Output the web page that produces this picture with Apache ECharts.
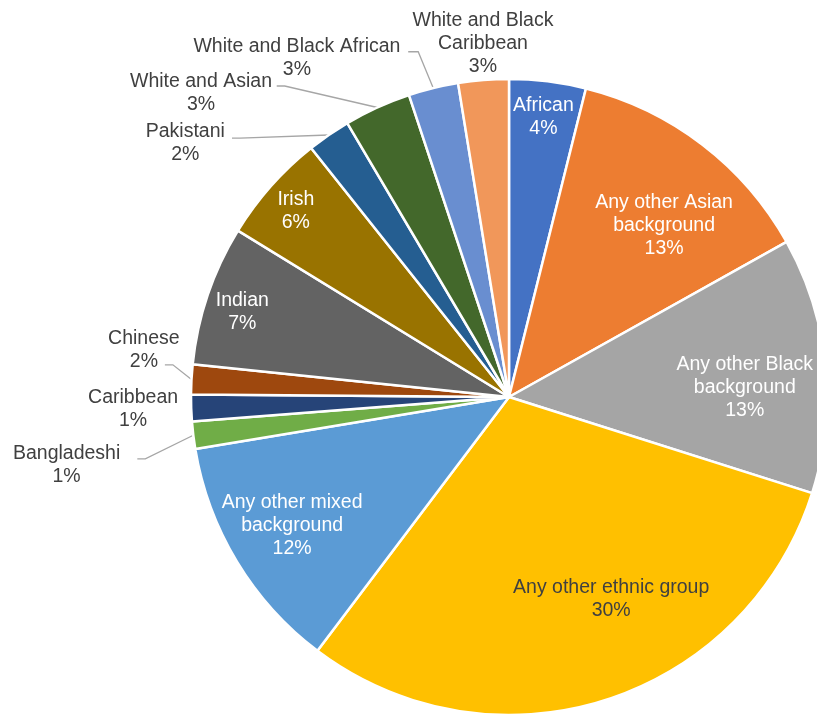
<!DOCTYPE html>
<html>
<head>
<meta charset="utf-8">
<title>Ethnic groups</title>
<script src="https://cdn.jsdelivr.net/npm/echarts@6/dist/echarts.min.js"></script>
<style>
  html, body { margin: 0; padding: 0; background: #ffffff; }
  #chart { width: 817px; height: 716px; }
</style>
</head>
<body>
<div id="chart"></div>
<script>
// Categories, clockwise from 12 o'clock
const categories = [
  'African',
  'Any other Asian background',
  'Any other Black background',
  'Any other ethnic group',
  'Any other mixed background',
  'Bangladeshi',
  'Caribbean',
  'Chinese',
  'Indian',
  'Irish',
  'Pakistani',
  'White and Asian',
  'White and Black African',
  'White and Black Caribbean'
];

// Share of each group (per cent)
const shares = [3.89, 13.0, 13.0, 30.4, 12.1, 1.38, 1.35, 1.52, 7.12, 5.55, 2.2, 3.4, 2.53, 2.56];

// Slice fills
const sliceColors = [
  '#4472C4', '#ED7D31', '#A5A5A5', '#FFC000', '#5B9BD5', '#70AD47', '#264478',
  '#9E480E', '#636363', '#997300', '#255E91', '#43682B', '#698ED0', '#F1975A'
];

// Line breaks used in the slice labels
const wrappedNames = {
  'Any other Asian background': 'Any other Asian\nbackground',
  'Any other Black background': 'Any other Black\nbackground',
  'Any other mixed background': 'Any other mixed\nbackground',
  'White and Black Caribbean': 'White and Black\nCaribbean'
};

// Pie geometry (pixels)
const PIE = { cx: 509, cy: 397, r: 318 };

// Labels drawn on the slice: k = fraction of the radius, da = angular nudge (deg)
const insideLabels = {
  'African': { k: 0.887, da: 0, color: '#ffffff' },
  'Any other Asian background': { k: 0.726, da: 4.8, color: '#ffffff' },
  'Any other Black background': { k: 0.742, da: 3.6, color: '#ffffff' },
  'Any other ethnic group': { k: 0.713, da: -9.1, color: '#404040' },
  'Any other mixed background': { k: 0.793, da: 0.5, color: '#ffffff' },
  'Indian': { k: 0.88, da: -1.1, color: '#ffffff' },
  'Irish': { k: 0.89, da: -0.4, color: '#ffffff' }
};

// Labels outside the pie: off = label centre from the slice's outer mid point,
// lead = where the leader line meets the label, stub = short horizontal run
const outsideLabels = {
  'White and Black Caribbean': { off: [-0.5, -36] },
  'White and Black African': { off: [-136.4, -30.1], lead: [-25.1, -36.4], stub: 10 },
  'White and Asian': { off: [-176.4, -14.5], lead: [-100.7, -21.5], stub: 8 },
  'Pakistani': { off: [-143.5, 7.8], lead: [-96.8, 3.1], stub: 8 },
  'Chinese': { off: [-47.6, -28.9], lead: [-26.6, -14.6], stub: 8 },
  'Caribbean': { off: [-58.1, 1.3] },
  'Bangladeshi': { off: [-126.7, 30.3], lead: [-56, 23.6], stub: 8 }
};

const total = shares.reduce((a, b) => a + b, 0);

// Mid angle of a slice, clockwise from 12 o'clock, in degrees
function midAngle(i) {
  let before = 0;
  for (let j = 0; j < i; j++) before += shares[j];
  return (before + shares[i] / 2) / total * 360;
}

function polar(deg, radius) {
  const a = deg * Math.PI / 180;
  return [PIE.cx + radius * Math.sin(a), PIE.cy - radius * Math.cos(a)];
}

function placeLabel(params) {
  const i = params.dataIndex;
  const name = categories[i];
  const theta = midAngle(i);
  const inside = insideLabels[name];
  if (inside) {
    const p = polar(theta + inside.da, inside.k * PIE.r);
    return { x: p[0], y: p[1], align: 'center', verticalAlign: 'middle' };
  }
  const spec = outsideLabels[name];
  const edge = polar(theta, PIE.r);
  const out = {
    x: edge[0] + spec.off[0],
    y: edge[1] + spec.off[1],
    align: 'center',
    verticalAlign: 'middle'
  };
  if (spec.lead) {
    const px = edge[0] + spec.lead[0];
    const py = edge[1] + spec.lead[1];
    out.labelLinePoints = [[edge[0], edge[1]], [px + spec.stub, py], [px, py]];
  }
  return out;
}

const seriesData = categories.map((name, i) => {
  const inside = insideLabels[name];
  const spec = outsideLabels[name];
  return {
    name: name,
    value: shares[i],
    itemStyle: { color: sliceColors[i] },
    label: { color: inside ? inside.color : '#404040' },
    labelLine: { show: !!(spec && spec.lead) }
  };
});

const chart = echarts.init(document.getElementById('chart'), null, { renderer: 'canvas' });

chart.setOption({
  backgroundColor: '#ffffff',
  animation: false,
  series: [{
    type: 'pie',
    center: [PIE.cx, PIE.cy],
    radius: PIE.r,
    startAngle: 90,
    clockwise: true,
    avoidLabelOverlap: false,
    emphasis: { disabled: true },
    itemStyle: { borderColor: '#ffffff', borderWidth: 2.5 },
    label: {
      show: true,
      position: 'outside',
      fontFamily: '"Liberation Sans", Arial, sans-serif',
      fontSize: 19.5,
      lineHeight: 23,
      formatter: function (p) {
        const text = wrappedNames[p.name] || p.name;
        return text + '\n' + Math.round(p.value / total * 100) + '%';
      }
    },
    labelLine: {
      smooth: false,
      lineStyle: { color: '#A6A6A6', width: 1.3 }
    },
    labelLayout: placeLabel,
    data: seriesData
  }]
});
</script>
</body>
</html>
